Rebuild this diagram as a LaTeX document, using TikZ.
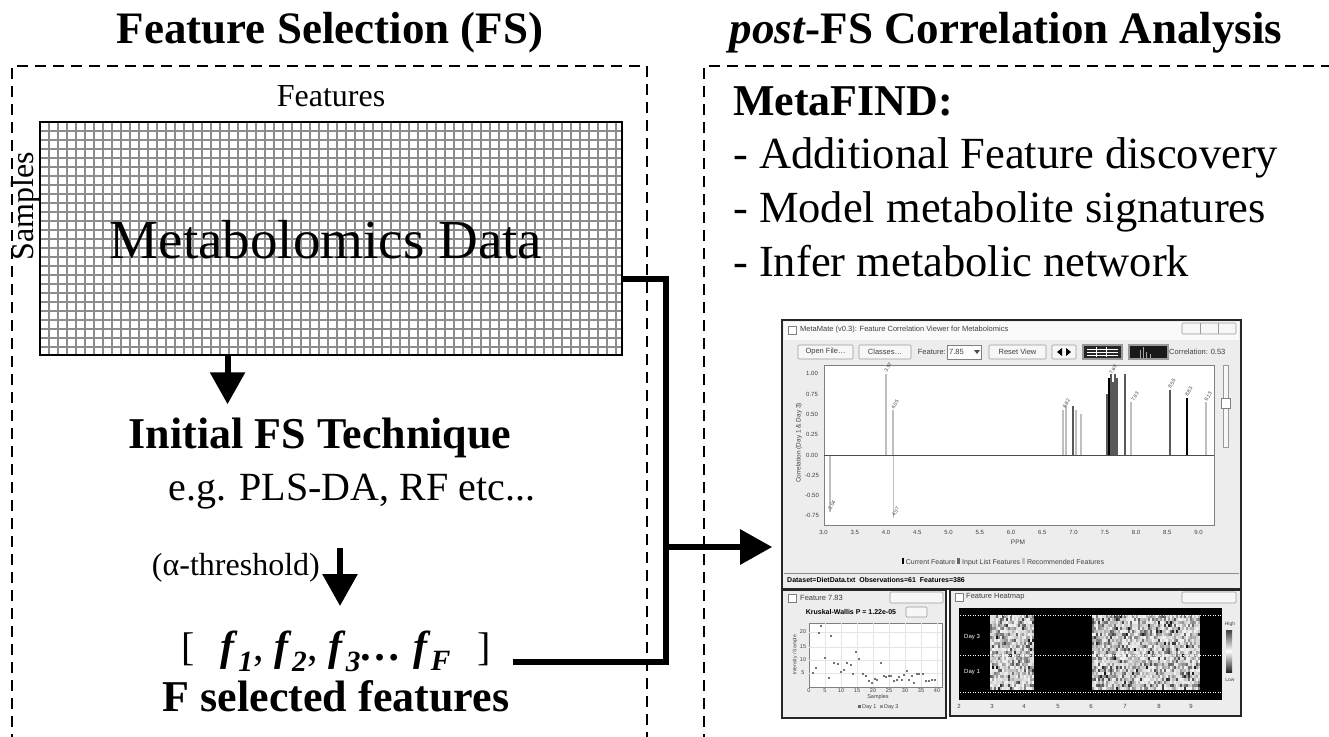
\documentclass[tikz,border=0pt]{standalone}
\usepackage{fontspec}
\setmainfont{Liberation Serif}
\setsansfont{Liberation Sans}
\usetikzlibrary{positioning, arrows.meta, calc}

\newcommand{\Fv}[1]{\textbf{\textit{f}}\textsubscript{\textbf{\textit{#1}}}}
\newcommand{\Cpos}[1]{823.6+(#1-3)*62.5}
\tikzset{
    panel/.style={draw, line width=2.5pt, dash pattern=on 11pt off 7pt},
    flow/.style={line width=6pt},
    flowarrow/.style={flow, -{Triangle[length=32pt, width=34pt]}},
    headtext/.style={font=\fontsize{45}{50}\selectfont\bfseries, inner sep=0pt, anchor=base},
    bigtext/.style={font=\fontsize{44.5}{50}\selectfont, inner sep=0pt},
    boldtext/.style={font=\fontsize{44}{50}\selectfont\bfseries, inner sep=0pt},
    smalltext/.style={font=\fontsize{32}{36}\selectfont, inner sep=0pt},
    cellline/.style={draw=black!45, line width=2pt},
    window/.style={draw=black!85, line width=1.6pt, fill=black!7, inner sep=0pt},
    guitext/.style={font=\sffamily\fontsize{7.5}{8}\selectfont, inner sep=0pt, text=black!75},
    guibtn/.style={draw=black!40, fill=black!3, line width=0.6pt, rounded corners=1pt},
    recbar/.style={draw=black!25, line width=1.3pt},
    inbar/.style={draw=black!65, line width=1.6pt},
    curbar/.style={draw=black, line width=1.6pt},
}

\begin{document}
\begin{tikzpicture}[x=1pt, y=-1pt]
  \useasboundingbox (0,0) rectangle (1329,736);

  \draw[panel] (12,745) |- (647,66) -- (647,745);
  \draw[panel] (704,745) |- (1340,66);
  \node[headtext] (fstitle) at (330,43) {Feature Selection (FS)};
  \node[headtext] (posttitle) at (1006,43) {\textit{post}-FS Correlation Analysis};

  % data matrix
  \foreach \x in {49,58,...,616} \draw[cellline] (\x,123) -- (\x,354);
  \foreach \y in {131,140,...,350} \draw[cellline] (41,\y) -- (621,\y);
  \node[draw, line width=2.5pt, minimum width=582pt, minimum height=233pt, inner sep=0pt] (data) at (331,238.5) {};
  \node[font=\fontsize{55}{60}\selectfont, inner sep=0pt] (datalabel) at (326,240) {Metabolomics Data};
  \node[smalltext, above=14pt of data] (featlabel) {Features};
  \node[smalltext, rotate=90] (samplabel) at (26,206) {Samples};

  \coordinate (out1) at ($(data.south west)!0.323!(data.south east)$);
  \draw[flowarrow] (out1) -- ++(0,48);
  \node[boldtext] (tech) at (320,438) {Initial FS Technique};
  \node[font=\fontsize{40}{44}\selectfont, inner sep=0pt] (eg) at (352,492) {e.g. PLS-DA, RF etc...};
  \coordinate (out2) at (340,548);
  \draw[flowarrow] (out2) -- ++(0,58);
  \node[smalltext, anchor=east] (alpha) at (320,568) {(α-threshold)};
  \node[inner sep=0pt, font=\fontsize{42}{46}\selectfont] (fvec) at (336,651)
    {{\fontsize{40}{44}\selectfont[}\hspace{26pt}\Fv{1}, \Fv{2}, \Fv{3}\textbf{\textit{\dots}} \Fv{F}\hspace{26pt}{\fontsize{40}{44}\selectfont]}};
  \node[boldtext, anchor=base] (fsel) at (336,711) {F selected features};

  \node[boldtext, anchor=base west] (meta) at (733,115) {MetaFIND:};
  \node[bigtext, anchor=base west] (item1) at (733,168) {- Additional Feature discovery};
  \node[bigtext, anchor=base west] (item2) at (733,222) {- Model metabolite signatures};
  \node[bigtext, anchor=base west] (item3) at (733,276) {- Infer metabolic network};

  % correlation viewer
  \node[window, minimum width=459pt, minimum height=269pt] (shot) at (1011.5,454.5) {};
  \fill[black!2] (784,322) rectangle (1239,340);
  \draw[black!50, line width=0.6pt, fill=white] (788,326) rectangle (796,334);
  \node[guitext, anchor=west] (wtitle) at (800,330) {MetaMate (v0.3): Feature Correlation Viewer for Metabolomics};
  \draw[guibtn] (1182,323) rectangle (1236,334);
  \draw[black!40, line width=0.6pt] (1200,323) -- (1200,334) (1218,323) -- (1218,334);
  \foreach \a/\b/\t in {798/853/Open File\ldots, 859/911/Classes\ldots, 989/1046/Reset View} {
    \draw[guibtn] (\a,345) rectangle (\b,359);
    \node[guitext] at ({(\a+\b)/2},352) {\t};
  }
  \node[guitext, anchor=east] at (946,352) {Feature:};
  \draw[black!50, fill=white, line width=0.6pt] (947,345) rectangle (981,359);
  \node[guitext, anchor=west] at (949,352) {7.85};
  \fill[black!70] (974,350) -- (980,350) -- (977,354) -- cycle;
  \draw[guibtn] (1052,345) rectangle (1076,359);
  \fill (1062,348) -- (1062,356) -- (1057,352) -- cycle;
  \fill (1066,348) -- (1066,356) -- (1071,352) -- cycle;
  \draw[black!40, fill=black!85, line width=1.2pt] (1083,345) rectangle (1122,359);
  \draw[white, line width=0.5pt] (1087,349) -- (1118,349) (1087,352) -- (1118,352) (1087,355) -- (1118,355) (1096,347) -- (1096,357) (1106,347) -- (1106,357);
  \draw[black!40, fill=black!90, line width=1.2pt] (1129,345) rectangle (1168,359);
  \draw[black!35, line width=0.6pt] (1140,358) -- (1140,350) (1143,358) -- (1143,347) (1146,358) -- (1146,352) (1150,358) -- (1150,354);
  \node[guitext, anchor=west] at (1169,352) {Correlation: 0.53};

  \draw[black!50, fill=white, line width=0.6pt] (824,365) rectangle (1214,525);
  \foreach \v in {1.00, 0.75, 0.50, 0.25, 0.00, -0.25, -0.50, -0.75}
    \node[guitext, font=\sffamily\fontsize{6}{7}\selectfont] at (812,{455-\v*81.2}) {\v};
  \foreach \p in {3.0, 3.5, 4.0, 4.5, 5.0, 5.5, 6.0, 6.5, 7.0, 7.5, 8.0, 8.5, 9.0}
    \node[guitext, font=\sffamily\fontsize{6}{7}\selectfont] at ({\Cpos{\p}},532) {\p};
  \node[guitext, rotate=90, font=\sffamily\fontsize{6.5}{7}\selectfont] at (799,443) {Correlation (Day 1 \& Day 3)};
  \node[guitext, font=\sffamily\fontsize{6.5}{7}\selectfont] at (1018,542) {PPM};
  \foreach \p/\v/\s in {3.10/-0.70/recbar, 4.00/1.00/recbar, 4.11/0.55/recbar, 4.12/-0.78/recbar,
      6.83/0.55/recbar, 6.88/0.60/recbar, 6.99/0.60/inbar, 7.04/0.55/recbar, 7.12/0.50/recbar,
      7.53/0.75/inbar, 7.57/0.95/curbar, 7.60/1.00/inbar, 7.63/0.90/inbar, 7.66/1.00/inbar, 7.69/0.95/inbar,
      7.82/1.00/inbar, 7.92/0.65/recbar, 8.54/0.80/inbar, 8.81/0.70/curbar, 9.12/0.65/recbar}
    \draw[\s] ({\Cpos{\p}},455) -- ({\Cpos{\p}},{455-\v*81.2});
  \draw[black!70, line width=0.8pt] (824,455) -- (1214,455);
  \foreach \p/\v/\t in {3.10/-0.62/3.04, 4.00/1.08/3.97, 4.11/0.62/4.05, 4.12/-0.70/4.07,
      6.85/0.63/6.82, 7.60/1.05/7.60, 7.95/0.72/7.93,
      8.54/0.88/8.55, 8.81/0.78/8.83, 9.12/0.72/9.13}
    \node[guitext, rotate=60, font=\sffamily\fontsize{5}{6}\selectfont] at ({\Cpos{\p}+2},{455-\v*81.2}) {\t};
  \node[guitext, font=\sffamily\fontsize{7}{8}\selectfont] (legend) at (1003,562)
    {\textcolor{black}{\rule{2pt}{6pt}} Current Feature \textcolor{black!60}{\rule{3pt}{6pt}} Input List Features \textcolor{black!25}{\rule{3pt}{6pt}} Recommended Features};
  \draw[black!45, line width=1pt] (784,573) -- (1239,573);
  \node[guitext, anchor=west, text=black, font=\sffamily\bfseries\fontsize{7}{8}\selectfont] (status) at (787,580)
    {Dataset=DietData.txt \ Observations=61 \ Features=386};
  \draw[black!40, fill=black!3, line width=0.6pt] (1223,365) rectangle (1228,447);
  \draw[black!50, fill=white, line width=0.6pt] (1221,398) rectangle (1230,408);

  % scatter window
  \node[window, minimum width=164pt, minimum height=128pt] (shotA) at (864,654) {};
  \draw[black!50, line width=0.6pt, fill=white] (788,594) rectangle (796,602);
  \node[guitext, anchor=west] at (800,598) {Feature 7.83};
  \draw[guibtn] (890,592) rectangle (943,603);
  \node[guitext, text=black, font=\sffamily\bfseries\fontsize{7}{8}\selectfont] at (851,612) {Kruskal-Wallis P = 1.22e-05};
  \draw[guibtn] (906,607) rectangle (927,617);
  \draw[black!50, fill=white, line width=0.6pt] (809,623) rectangle (942,687);
  \foreach \x in {825,841,...,937} \draw[black!10, line width=0.4pt] (\x,623) -- (\x,687);
  \foreach \y in {632,647,660,673} \draw[black!10, line width=0.4pt] (809,\y) -- (942,\y);
  \foreach \v/\y in {20/632, 15/647, 10/660, 5/673}
    \node[guitext, font=\sffamily\fontsize{5.5}{6}\selectfont] at (803,\y) {\v};
  \foreach \v/\x in {0/809, 5/825, 10/841, 15/857, 20/873, 25/889, 30/905, 35/921, 40/937}
    \node[guitext, font=\sffamily\fontsize{5.5}{6}\selectfont] at (\x,691) {\v};
  \node[guitext, rotate=90, font=\sffamily\fontsize{5}{6}\selectfont] at (795,655) {Intensity / Sample};
  \node[guitext, font=\sffamily\fontsize{5.5}{6}\selectfont] at (878,697) {Samples};
  \node[guitext, font=\sffamily\fontsize{5.5}{6}\selectfont] at (878,707) {\textcolor{black!60}{\rule{3pt}{3pt}} Day 1 \ \textcolor{black!40}{\rule{3pt}{3pt}} Day 3};
  \foreach \x/\y in {813/673, 816/668, 819/633, 821/626, 825/658, 829/678, 831/636, 834/663, 838/664,
      841/672, 844/670, 847/663, 851/665, 853/674, 856/652, 859/659, 863/674, 866/676, 869/681,
      872/683, 875/679, 877/680, 881/663, 884/676, 886/677, 889/676, 891/676, 894/681, 897/680,
      899/677, 902/680, 904/675, 907/671, 909/680, 912/676, 914/683, 917/674, 919/674, 923/674,
      926/681, 929/681, 932/680, 935/680}
    \fill[black!55] (\x-1.3,\y-1.3) rectangle (\x+1.3,\y+1.3);

  % heatmap window
  \node[window, minimum width=291pt, minimum height=126pt] (shotB) at (1095.5,653) {};
  \draw[black!50, line width=0.6pt, fill=white] (955,593) rectangle (963,601);
  \node[guitext, anchor=west] at (966,597) {Feature Heatmap};
  \draw[guibtn] (1182,592) rectangle (1236,603);
  \fill[black] (959,608) rectangle (1222,700);
  \pgfmathsetseed{42}
  \foreach \x in {990,992,...,1032}
    \foreach \y in {615,618,...,689} {
      \pgfmathsetmacro{\shadeval}{int(5+90*rnd*rnd)}
      \fill[black!\shadeval] (\x,\y) rectangle ++(2,3);
    }
  \foreach \x in {1092,1094,...,1198}
    \foreach \y in {615,618,...,689} {
      \pgfmathsetmacro{\shadeval}{int(5+95*rnd*rnd)}
      \fill[black!\shadeval] (\x,\y) rectangle ++(2,3);
    }
  \foreach \y in {615,655,692} \draw[white, dotted, line width=0.5pt] (960,\y) -- (1221,\y);
  \node[guitext, text=white, font=\sffamily\fontsize{6}{7}\selectfont] at (972,637) {Day 3};
  \node[guitext, text=white, font=\sffamily\fontsize{6}{7}\selectfont] at (972,672) {Day 1};
  \shade[top color=black!75, bottom color=black!85, middle color=white] (1226,630) rectangle (1232,672);
  \node[guitext, font=\sffamily\fontsize{5}{6}\selectfont] at (1230,624) {High};
  \node[guitext, font=\sffamily\fontsize{5}{6}\selectfont] at (1230,680) {Low};
  \foreach \v/\x in {2/959, 3/992, 4/1024, 5/1058, 6/1091, 7/1125, 8/1159, 9/1191}
    \node[guitext, font=\sffamily\fontsize{6}{7}\selectfont] at (\x,706) {\v};

  % connectors
  \coordinate (tap) at ($(data.north east)!0.672!(data.south east)$);
  \coordinate (bend) at (666,662);
  \coordinate (fend) at (513,662);
  \coordinate (split) at (666,547);
  \draw[flow] (tap) -| (bend) -- (fend);
  \draw[flowarrow, shorten >=9pt] (split) -- (split -| shot.west);
\end{tikzpicture}
\end{document}
